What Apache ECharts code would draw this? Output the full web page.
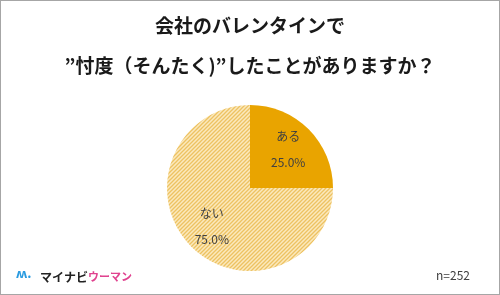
<!DOCTYPE html>
<html>
<head>
<meta charset="utf-8">
<script src="https://cdn.jsdelivr.net/npm/echarts@6/dist/echarts.min.js"></script>
<style>
html,body{margin:0;padding:0;background:#fff;}
#chart{width:498px;height:293px;border:1px solid #a6a6a6;}
</style>
</head>
<body>
<div id="chart"></div>
<script>
var titleLines = ['会社のバレンタインで', '”忖度（そんたく)”したことがありますか？'];
var categories = ['ある', 'ない'];
var values = [25.0, 75.0];
var sampleNote = 'n=252';

// hatch pattern for the "ない" slice
function hatch() {
    var c = document.createElement('canvas');
    c.width = 4; c.height = 4;
    var ctx = c.getContext('2d');
    ctx.fillStyle = '#fbe9bd';
    ctx.fillRect(0, 0, 4, 4);
    ctx.strokeStyle = '#edc262';
    ctx.lineWidth = 1.3;
    ctx.beginPath();
    ctx.moveTo(-1, 5); ctx.lineTo(5, -1);
    ctx.moveTo(-1, 1); ctx.lineTo(1, -1);
    ctx.moveTo(3, 5); ctx.lineTo(5, 3);
    ctx.stroke();
    return c;
}

var myChart = echarts.init(document.getElementById('chart'));
var pieData = categories.map(function (n, i) { return { name: n, value: values[i] }; });
var font = '"Noto Sans CJK JP", "Noto Sans", sans-serif';

var option = {
    animation: false,
    textStyle: { fontFamily: font },
    title: [{
        text: titleLines[0],
        left: 'center', top: 10,
        textStyle: { fontSize: 19, fontWeight: 'bold', color: '#1a1a1a', fontFamily: font }
    }, {
        text: titleLines[1],
        left: 'center', top: 50,
        textStyle: { fontSize: 19, fontWeight: 'bold', color: '#1a1a1a', fontFamily: font }
    }, {
        text: sampleNote,
        right: 24, top: 263,
        textStyle: { fontSize: 12, fontWeight: 'normal', color: '#404040', fontFamily: font }
    }, {
        text: '{m|マイナビ}{w|ウーマン}',
        left: 34, top: 265,
        textStyle: {
            rich: {
                m: { fontSize: 12, fontWeight: 'bold', color: '#222', fontFamily: font },
                w: { fontSize: 11, color: '#e0438f', fontFamily: font }
            }
        }
    }],
    graphic: [{
        type: 'text', left: 15, top: 266,
        style: { text: 'ʍ.', fontSize: 13, fontWeight: 'bold', fill: '#2a9be0', fontFamily: font }
    }],
    series: [{
        type: 'pie',
        center: [249, 187],
        radius: 83,
        startAngle: 90,
        clockwise: true,
        silent: true,
        label: { show: false },
        labelLine: { show: false },
        itemStyle: { borderWidth: 0 },
        data: [
            { name: pieData[0].name, value: pieData[0].value, itemStyle: { color: '#e9a400' } },
            { name: pieData[1].name, value: pieData[1].value, itemStyle: { color: { image: hatch(), repeat: 'repeat' } } }
        ]
    }, {
        // transparent copy used only to place the labels further out
        type: 'pie',
        center: [249, 187],
        radius: [0, 102],
        startAngle: 90,
        clockwise: true,
        silent: true,
        itemStyle: { color: 'rgba(0,0,0,0)' },
        label: {
            position: 'inside',
            formatter: function (p) { return p.name + '\n' + p.value.toFixed(1) + '%'; },
            fontSize: 12, lineHeight: 26, color: '#404040', fontFamily: font
        },
        data: pieData
    }]
};
myChart.setOption(option);
window.addEventListener('resize', function () { myChart.resize(); });
</script>
</body>
</html>
